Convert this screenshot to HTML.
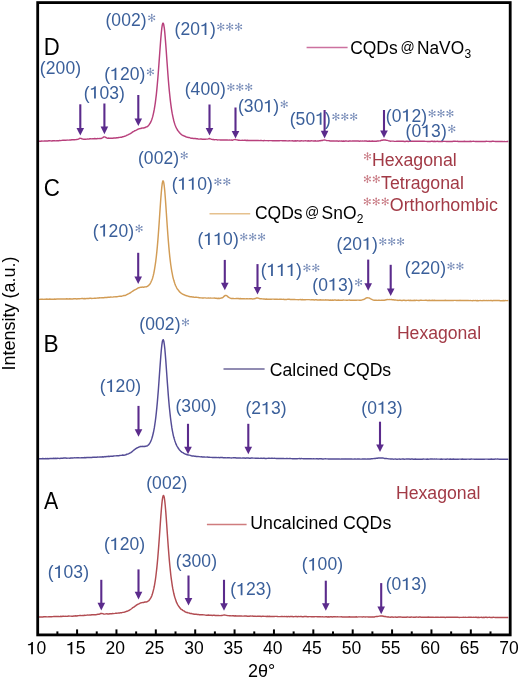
<!DOCTYPE html><html><head><meta charset="utf-8"><style>html,body{margin:0;padding:0;background:#fff;width:520px;height:682px;overflow:hidden}svg{display:block;will-change:transform;filter:blur(0.25px)}</style></head><body><svg width="520" height="682" viewBox="0 0 520 682">
<rect width="520" height="682" fill="#fff"/>
<path d="M38.8,141.19 L39.8,141.11 L40.8,141.23 L41.8,141.03 L42.8,141.14 L43.8,141.06 L44.8,140.94 L45.8,141.05 L46.8,140.88 L47.8,140.97 L48.8,140.83 L49.8,140.80 L50.8,140.87 L51.8,140.96 L52.8,140.72 L53.8,140.72 L54.8,140.81 L55.8,140.88 L56.8,140.73 L57.8,140.63 L58.8,140.75 L59.8,140.42 L60.8,140.61 L61.8,140.39 L62.8,140.29 L63.8,140.23 L64.8,140.23 L65.8,140.33 L66.8,140.08 L67.8,140.15 L68.8,140.11 L69.8,139.98 L70.8,139.97 L71.8,139.77 L72.8,139.71 L73.8,139.70 L74.8,139.79 L75.8,139.65 L76.8,139.53 L77.8,139.40 L78.8,138.88 L79.8,138.28 L80.8,138.38 L81.8,138.79 L82.8,139.03 L83.8,139.23 L84.8,139.18 L85.8,139.24 L86.8,139.14 L87.8,138.95 L88.8,139.10 L89.8,138.78 L90.8,138.82 L91.8,138.86 L92.8,138.64 L93.8,138.70 L94.8,138.52 L95.8,138.67 L96.8,138.66 L97.8,138.57 L98.8,138.62 L99.8,138.40 L100.8,138.45 L101.8,138.19 L102.8,137.62 L103.8,136.85 L104.8,136.86 L105.8,137.51 L106.8,137.96 L107.8,138.24 L108.8,138.09 L109.8,138.27 L110.8,138.23 L111.8,138.31 L112.8,138.22 L113.8,138.02 L114.8,138.00 L115.8,138.02 L116.8,137.75 L117.8,137.79 L118.8,137.58 L119.8,137.41 L120.8,137.21 L121.8,137.21 L122.8,136.76 L123.8,136.49 L124.8,136.18 L125.8,135.92 L126.8,135.23 L127.8,134.85 L128.8,134.34 L129.8,133.87 L130.8,133.26 L131.8,132.67 L132.8,131.88 L133.8,131.33 L134.8,130.74 L135.8,130.37 L136.8,129.91 L137.8,129.25 L138.8,128.89 L139.3,128.75 L139.8,128.61 L140.3,128.55 L140.8,128.46 L141.3,128.25 L141.8,128.07 L142.3,128.10 L142.8,127.98 L143.3,127.94 L143.8,127.95 L144.3,127.76 L144.8,127.57 L145.3,127.45 L145.8,127.28 L146.3,126.88 L146.8,126.87 L147.3,126.53 L147.8,126.19 L148.3,125.73 L148.8,125.09 L149.3,124.48 L149.8,123.67 L150.3,122.99 L150.8,121.84 L151.3,120.70 L151.8,119.42 L152.3,117.88 L152.8,116.18 L153.3,114.07 L153.8,111.74 L154.3,109.15 L154.8,106.13 L155.3,102.80 L155.8,98.86 L156.3,94.80 L156.8,89.91 L157.3,84.46 L157.8,78.69 L158.3,72.45 L158.8,65.81 L159.3,58.83 L159.8,52.06 L160.3,45.25 L160.8,38.67 L161.3,32.99 L161.8,28.23 L162.3,24.94 L162.8,23.29 L163.3,23.22 L163.8,25.05 L164.3,28.09 L164.8,32.66 L165.3,38.63 L165.8,44.96 L166.3,51.75 L166.8,58.96 L167.3,65.82 L167.8,72.76 L168.3,79.31 L168.8,85.25 L169.3,90.69 L169.8,95.55 L170.3,100.09 L170.8,104.07 L171.3,107.87 L171.8,111.02 L172.3,113.96 L172.8,116.37 L173.3,118.60 L173.8,120.78 L174.3,122.61 L174.8,124.15 L175.3,125.55 L175.8,126.81 L176.3,127.90 L176.8,128.75 L177.3,129.73 L177.8,130.48 L178.3,131.11 L178.8,131.76 L179.3,132.42 L179.8,132.94 L180.3,133.55 L180.8,134.07 L181.3,134.32 L181.8,134.83 L182.3,135.18 L182.8,135.47 L183.3,135.57 L183.8,135.79 L184.3,136.03 L184.8,136.23 L185.3,136.44 L185.8,136.75 L186.3,137.00 L186.8,137.14 L187.3,137.18 L187.8,137.37 L188.3,137.55 L189.3,137.56 L190.3,137.94 L191.3,138.19 L192.3,138.31 L193.3,138.44 L194.3,138.49 L195.3,138.51 L196.3,138.80 L197.3,138.76 L198.3,138.98 L199.3,139.11 L200.3,139.01 L201.3,139.08 L202.3,139.31 L203.3,139.30 L204.3,139.18 L205.3,139.17 L206.3,139.10 L207.3,139.13 L208.3,138.85 L209.3,138.52 L210.3,138.84 L211.3,139.19 L212.3,139.41 L213.3,139.52 L214.3,139.69 L215.3,139.62 L216.3,139.62 L217.3,139.93 L218.3,139.87 L219.3,139.86 L220.3,140.01 L221.3,139.89 L222.3,140.04 L223.3,140.06 L224.3,139.90 L225.3,139.93 L226.3,139.97 L227.3,139.98 L228.3,140.11 L229.3,140.03 L230.3,140.10 L231.3,140.02 L232.3,140.21 L233.3,139.88 L234.3,139.62 L235.3,139.47 L236.3,139.69 L237.3,139.87 L238.3,140.29 L239.3,140.29 L240.3,140.35 L241.3,140.36 L242.3,140.22 L243.3,140.36 L244.3,140.29 L245.3,140.25 L246.3,140.50 L247.3,140.32 L248.3,140.42 L249.3,140.50 L250.3,140.46 L251.3,140.40 L252.3,140.47 L253.3,140.49 L254.3,140.57 L255.3,140.38 L256.3,140.52 L257.3,140.44 L258.3,140.46 L259.3,140.61 L260.3,140.54 L261.3,140.57 L262.3,140.64 L263.3,140.69 L264.3,140.56 L265.3,140.62 L266.3,140.60 L267.3,140.61 L268.3,140.67 L269.3,140.61 L270.3,140.64 L271.3,140.63 L272.3,140.78 L273.3,140.72 L274.3,140.78 L275.3,140.81 L276.3,140.61 L277.3,140.71 L278.3,140.84 L279.3,140.81 L280.3,140.61 L281.3,140.62 L282.3,140.72 L283.3,140.62 L284.3,140.68 L285.3,140.64 L286.3,140.82 L287.3,140.87 L288.3,140.91 L289.3,140.70 L290.3,140.87 L291.3,140.86 L292.3,140.72 L293.3,140.95 L294.3,140.98 L295.3,140.77 L296.3,140.99 L297.3,140.84 L298.3,140.87 L299.3,141.03 L300.3,140.99 L301.3,140.79 L302.3,140.88 L303.3,140.91 L304.3,140.86 L305.3,140.82 L306.3,140.86 L307.3,140.99 L308.3,140.78 L309.3,140.95 L310.3,140.92 L311.3,140.79 L312.3,140.89 L313.3,140.98 L314.3,140.95 L315.3,140.82 L316.3,141.10 L317.3,141.04 L318.3,141.07 L319.3,140.75 L320.3,140.69 L321.3,140.44 L322.3,140.46 L323.3,140.12 L324.3,139.98 L325.3,140.12 L326.3,140.43 L327.3,140.62 L328.3,140.65 L329.3,140.76 L330.3,141.08 L331.3,141.02 L332.3,141.08 L333.3,140.90 L334.3,140.90 L335.3,141.09 L336.3,141.02 L337.3,140.92 L338.3,141.18 L339.3,141.09 L340.3,141.15 L341.3,140.94 L342.3,141.17 L343.3,140.94 L344.3,141.18 L345.3,141.06 L346.3,141.03 L347.3,141.10 L348.3,141.22 L349.3,141.02 L350.3,140.99 L351.3,141.11 L352.3,141.03 L353.3,140.99 L354.3,141.01 L355.3,140.98 L356.3,141.03 L357.3,141.07 L358.3,141.07 L359.3,141.21 L360.3,141.08 L361.3,141.14 L362.3,141.05 L363.3,141.10 L364.3,141.01 L365.3,141.08 L366.3,141.02 L367.3,141.24 L368.3,141.19 L369.3,141.08 L370.3,141.17 L371.3,141.31 L372.3,141.07 L373.3,141.28 L374.3,141.17 L375.3,141.18 L376.3,141.26 L377.3,141.07 L378.3,141.00 L379.3,140.89 L380.3,140.76 L381.3,140.31 L382.3,140.22 L383.3,140.03 L384.3,139.98 L385.3,140.03 L386.3,140.23 L387.3,140.40 L388.3,140.67 L389.3,140.85 L390.3,141.19 L391.3,141.12 L392.3,141.14 L393.3,141.14 L394.3,141.37 L395.3,141.39 L396.3,141.33 L397.3,141.22 L398.3,141.21 L399.3,141.23 L400.3,141.29 L401.3,141.20 L402.3,141.29 L403.3,141.23 L404.3,141.44 L405.3,141.45 L406.3,141.32 L407.3,141.24 L408.3,141.45 L409.3,141.26 L410.3,141.27 L411.3,141.17 L412.3,141.29 L413.3,141.32 L414.3,141.33 L415.3,141.24 L416.3,141.33 L417.3,141.18 L418.3,141.26 L419.3,141.21 L420.3,141.31 L421.3,141.20 L422.3,141.20 L423.3,141.28 L424.3,141.26 L425.3,141.37 L426.3,141.36 L427.3,141.42 L428.3,141.40 L429.3,141.42 L430.3,141.47 L431.3,141.32 L432.3,141.31 L433.3,141.50 L434.3,141.26 L435.3,141.43 L436.3,141.41 L437.3,141.23 L438.3,141.47 L439.3,141.49 L440.3,141.41 L441.3,141.44 L442.3,141.47 L443.3,141.27 L444.3,141.39 L445.3,141.38 L446.3,141.48 L447.3,141.48 L448.3,141.48 L449.3,141.41 L450.3,141.51 L451.3,141.45 L452.3,141.45 L453.3,141.32 L454.3,141.26 L455.3,141.29 L456.3,141.36 L457.3,141.28 L458.3,141.51 L459.3,141.42 L460.3,141.45 L461.3,141.45 L462.3,141.47 L463.3,141.41 L464.3,141.27 L465.3,141.51 L466.3,141.49 L467.3,141.42 L468.3,141.43 L469.3,141.47 L470.3,141.30 L471.3,141.50 L472.3,141.36 L473.3,141.30 L474.3,141.36 L475.3,141.51 L476.3,141.35 L477.3,141.51 L478.3,141.58 L479.3,141.44 L480.3,141.41 L481.3,141.44 L482.3,141.50 L483.3,141.53 L484.3,141.49 L485.3,141.50 L486.3,141.33 L487.3,141.35 L488.3,141.39 L489.3,141.53 L490.3,141.40 L491.3,141.49 L492.3,141.32 L493.3,141.34 L494.3,141.40 L495.3,141.52 L496.3,141.53 L497.3,141.53 L498.3,141.42 L499.3,141.48 L500.3,141.47 L501.3,141.47 L502.3,141.37 L503.3,141.61 L504.3,141.40 L505.3,141.63 L506.3,141.62 L507.3,141.35 L508.3,141.48" fill="none" stroke="#b8407c" stroke-width="1.45" stroke-linejoin="round"/>
<path d="M38.8,299.36 L39.8,299.40 L40.8,299.23 L41.8,299.16 L42.8,299.14 L43.8,299.34 L44.8,299.11 L45.8,299.21 L46.8,299.07 L47.8,299.17 L48.8,299.29 L49.8,299.03 L50.8,299.23 L51.8,299.12 L52.8,299.23 L53.8,299.16 L54.8,299.01 L55.8,299.19 L56.8,299.06 L57.8,298.91 L58.8,298.89 L59.8,299.03 L60.8,299.00 L61.8,298.94 L62.8,298.88 L63.8,298.93 L64.8,298.91 L65.8,299.06 L66.8,298.79 L67.8,299.01 L68.8,299.02 L69.8,298.79 L70.8,299.02 L71.8,298.94 L72.8,298.98 L73.8,298.79 L74.8,298.80 L75.8,298.79 L76.8,298.95 L77.8,298.80 L78.8,298.70 L79.8,298.70 L80.8,298.62 L81.8,298.52 L82.8,298.51 L83.8,298.70 L84.8,298.50 L85.8,298.66 L86.8,298.42 L87.8,298.38 L88.8,298.42 L89.8,298.28 L90.8,298.29 L91.8,298.42 L92.8,298.35 L93.8,298.27 L94.8,298.16 L95.8,298.19 L96.8,298.15 L97.8,297.99 L98.8,297.99 L99.8,297.74 L100.8,297.89 L101.8,297.75 L102.8,297.78 L103.8,297.68 L104.8,297.51 L105.8,297.37 L106.8,297.57 L107.8,297.26 L108.8,297.29 L109.8,297.17 L110.8,297.08 L111.8,297.14 L112.8,297.13 L113.8,296.84 L114.8,296.88 L115.8,296.69 L116.8,296.68 L117.8,296.54 L118.8,296.37 L119.8,296.25 L120.8,296.13 L121.8,296.18 L122.8,295.87 L123.8,295.56 L124.8,295.50 L125.8,295.20 L126.8,294.65 L127.8,294.11 L128.8,293.62 L129.8,293.03 L130.8,292.49 L131.8,291.76 L132.8,291.12 L133.8,290.45 L134.8,289.88 L135.8,289.35 L136.8,288.76 L137.8,288.18 L138.8,287.80 L139.3,287.68 L139.8,287.50 L140.3,287.38 L140.8,287.21 L141.3,287.21 L141.8,287.36 L142.3,287.07 L142.8,287.15 L143.3,287.16 L143.8,287.21 L144.3,286.98 L144.8,286.95 L145.3,286.87 L145.8,286.83 L146.3,286.71 L146.8,286.70 L147.3,286.44 L147.8,286.17 L148.3,285.56 L148.8,285.13 L149.3,284.81 L149.8,284.23 L150.3,283.35 L150.8,282.50 L151.3,281.28 L151.8,280.18 L152.3,278.92 L152.8,277.26 L153.3,275.38 L153.8,273.25 L154.3,270.55 L154.8,267.67 L155.3,264.44 L155.8,260.88 L156.3,256.77 L156.8,252.17 L157.3,246.88 L157.8,241.08 L158.3,234.78 L158.8,227.87 L159.3,220.69 L159.8,213.11 L160.3,205.91 L160.8,198.66 L161.3,192.47 L161.8,187.08 L162.3,183.13 L162.8,181.00 L163.3,180.90 L163.8,182.83 L164.3,186.46 L164.8,191.42 L165.3,197.69 L165.8,204.87 L166.3,212.32 L166.8,219.75 L167.3,227.01 L167.8,234.07 L168.3,240.36 L168.8,246.39 L169.3,251.83 L169.8,256.82 L170.3,261.07 L170.8,265.00 L171.3,268.30 L171.8,271.27 L172.3,273.96 L172.8,276.55 L173.3,278.59 L173.8,280.34 L174.3,281.91 L174.8,283.53 L175.3,284.89 L175.8,285.99 L176.3,286.99 L176.8,288.05 L177.3,288.97 L177.8,289.51 L178.3,290.14 L178.8,290.84 L179.3,291.43 L179.8,292.01 L180.3,292.32 L180.8,292.92 L181.3,293.29 L181.8,293.56 L182.3,293.79 L182.8,294.31 L183.3,294.39 L183.8,294.79 L184.3,294.84 L184.8,295.04 L185.3,295.40 L185.8,295.44 L186.3,295.80 L186.8,295.82 L187.3,295.87 L187.8,296.01 L188.3,296.20 L189.3,296.50 L190.3,296.78 L191.3,296.71 L192.3,296.93 L193.3,297.01 L194.3,297.36 L195.3,297.22 L196.3,297.29 L197.3,297.38 L198.3,297.56 L199.3,297.78 L200.3,297.84 L201.3,297.85 L202.3,297.98 L203.3,298.01 L204.3,297.87 L205.3,297.87 L206.3,298.14 L207.3,298.11 L208.3,297.93 L209.3,298.15 L210.3,298.09 L211.3,298.12 L212.3,298.13 L213.3,298.11 L214.3,298.08 L215.3,298.18 L216.3,298.22 L217.3,298.42 L218.3,298.19 L219.3,298.44 L220.3,298.18 L221.3,298.07 L222.3,297.81 L223.3,297.10 L224.3,296.11 L225.3,295.36 L226.3,295.50 L227.3,296.12 L228.3,297.19 L229.3,297.71 L230.3,298.18 L231.3,298.53 L232.3,298.35 L233.3,298.49 L234.3,298.63 L235.3,298.64 L236.3,298.44 L237.3,298.46 L238.3,298.49 L239.3,298.76 L240.3,298.58 L241.3,298.75 L242.3,298.81 L243.3,298.66 L244.3,298.66 L245.3,298.88 L246.3,298.79 L247.3,298.70 L248.3,298.86 L249.3,298.75 L250.3,298.76 L251.3,298.69 L252.3,298.91 L253.3,298.91 L254.3,298.70 L255.3,298.58 L256.3,298.05 L257.3,297.97 L258.3,298.10 L259.3,298.48 L260.3,298.76 L261.3,298.81 L262.3,298.89 L263.3,299.00 L264.3,299.05 L265.3,299.20 L266.3,298.99 L267.3,299.19 L268.3,299.19 L269.3,299.23 L270.3,299.23 L271.3,299.20 L272.3,299.13 L273.3,299.14 L274.3,299.17 L275.3,299.31 L276.3,299.11 L277.3,299.17 L278.3,299.35 L279.3,299.21 L280.3,299.17 L281.3,299.18 L282.3,299.35 L283.3,299.30 L284.3,299.51 L285.3,299.49 L286.3,299.54 L287.3,299.34 L288.3,299.30 L289.3,299.32 L290.3,299.45 L291.3,299.53 L292.3,299.47 L293.3,299.42 L294.3,299.49 L295.3,299.57 L296.3,299.60 L297.3,299.63 L298.3,299.68 L299.3,299.64 L300.3,299.49 L301.3,299.72 L302.3,299.57 L303.3,299.67 L304.3,299.63 L305.3,299.75 L306.3,299.60 L307.3,299.63 L308.3,299.65 L309.3,299.63 L310.3,299.87 L311.3,299.79 L312.3,299.73 L313.3,299.77 L314.3,299.96 L315.3,299.83 L316.3,299.76 L317.3,299.95 L318.3,299.92 L319.3,300.03 L320.3,299.78 L321.3,299.91 L322.3,300.03 L323.3,300.05 L324.3,300.08 L325.3,299.84 L326.3,299.93 L327.3,299.89 L328.3,299.93 L329.3,300.18 L330.3,300.07 L331.3,300.19 L332.3,300.04 L333.3,300.20 L334.3,300.09 L335.3,300.05 L336.3,300.22 L337.3,300.29 L338.3,300.05 L339.3,300.21 L340.3,300.23 L341.3,300.11 L342.3,300.16 L343.3,300.09 L344.3,300.11 L345.3,300.13 L346.3,300.24 L347.3,300.25 L348.3,300.12 L349.3,300.07 L350.3,300.16 L351.3,300.27 L352.3,300.13 L353.3,300.17 L354.3,300.14 L355.3,300.32 L356.3,300.25 L357.3,300.10 L358.3,300.11 L359.3,300.19 L360.3,300.22 L361.3,300.17 L362.3,299.85 L363.3,299.57 L364.3,299.26 L365.3,298.59 L366.3,297.99 L367.3,297.65 L368.3,297.84 L369.3,298.01 L370.3,298.65 L371.3,299.17 L372.3,299.66 L373.3,300.10 L374.3,300.31 L375.3,300.20 L376.3,300.18 L377.3,300.35 L378.3,300.19 L379.3,300.13 L380.3,300.39 L381.3,300.23 L382.3,300.32 L383.3,300.14 L384.3,300.20 L385.3,299.97 L386.3,299.75 L387.3,299.57 L388.3,299.61 L389.3,299.57 L390.3,299.64 L391.3,299.45 L392.3,299.71 L393.3,299.77 L394.3,299.95 L395.3,299.97 L396.3,300.11 L397.3,300.25 L398.3,300.41 L399.3,300.19 L400.3,300.32 L401.3,300.43 L402.3,300.48 L403.3,300.25 L404.3,300.24 L405.3,300.48 L406.3,300.50 L407.3,300.35 L408.3,300.22 L409.3,300.49 L410.3,300.33 L411.3,300.49 L412.3,300.40 L413.3,300.47 L414.3,300.27 L415.3,300.46 L416.3,300.29 L417.3,300.35 L418.3,300.48 L419.3,300.48 L420.3,300.29 L421.3,300.30 L422.3,300.36 L423.3,300.40 L424.3,300.36 L425.3,300.28 L426.3,300.32 L427.3,300.47 L428.3,300.52 L429.3,300.27 L430.3,300.43 L431.3,300.49 L432.3,300.28 L433.3,300.52 L434.3,300.30 L435.3,300.45 L436.3,300.44 L437.3,300.46 L438.3,300.37 L439.3,300.41 L440.3,300.46 L441.3,300.41 L442.3,300.49 L443.3,300.42 L444.3,300.42 L445.3,300.30 L446.3,300.48 L447.3,300.45 L448.3,300.37 L449.3,300.53 L450.3,300.54 L451.3,300.45 L452.3,300.37 L453.3,300.46 L454.3,300.35 L455.3,300.36 L456.3,300.45 L457.3,300.35 L458.3,300.46 L459.3,300.48 L460.3,300.34 L461.3,300.52 L462.3,300.36 L463.3,300.56 L464.3,300.57 L465.3,300.50 L466.3,300.36 L467.3,300.50 L468.3,300.46 L469.3,300.64 L470.3,300.40 L471.3,300.61 L472.3,300.66 L473.3,300.58 L474.3,300.61 L475.3,300.42 L476.3,300.66 L477.3,300.52 L478.3,300.66 L479.3,300.65 L480.3,300.43 L481.3,300.62 L482.3,300.66 L483.3,300.41 L484.3,300.49 L485.3,300.62 L486.3,300.44 L487.3,300.66 L488.3,300.48 L489.3,300.64 L490.3,300.45 L491.3,300.56 L492.3,300.68 L493.3,300.47 L494.3,300.49 L495.3,300.57 L496.3,300.51 L497.3,300.43 L498.3,300.48 L499.3,300.47 L500.3,300.71 L501.3,300.63 L502.3,300.70 L503.3,300.48 L504.3,300.67 L505.3,300.47 L506.3,300.60 L507.3,300.63 L508.3,300.55" fill="none" stroke="#d29c55" stroke-width="1.45" stroke-linejoin="round"/>
<path d="M38.8,458.87 L39.8,458.76 L40.8,458.74 L41.8,458.81 L42.8,458.56 L43.8,458.80 L44.8,458.67 L45.8,458.58 L46.8,458.68 L47.8,458.50 L48.8,458.69 L49.8,458.55 L50.8,458.46 L51.8,458.56 L52.8,458.44 L53.8,458.34 L54.8,458.49 L55.8,458.26 L56.8,458.47 L57.8,458.28 L58.8,458.37 L59.8,458.45 L60.8,458.31 L61.8,458.31 L62.8,458.18 L63.8,458.07 L64.8,458.05 L65.8,458.07 L66.8,458.18 L67.8,458.11 L68.8,458.11 L69.8,458.20 L70.8,457.95 L71.8,457.95 L72.8,458.06 L73.8,457.85 L74.8,457.82 L75.8,457.90 L76.8,457.80 L77.8,457.84 L78.8,457.77 L79.8,457.85 L80.8,457.82 L81.8,457.68 L82.8,457.77 L83.8,457.69 L84.8,457.56 L85.8,457.77 L86.8,457.52 L87.8,457.46 L88.8,457.40 L89.8,457.52 L90.8,457.55 L91.8,457.48 L92.8,457.32 L93.8,457.23 L94.8,457.10 L95.8,457.23 L96.8,457.16 L97.8,457.06 L98.8,457.10 L99.8,457.00 L100.8,457.09 L101.8,456.98 L102.8,456.77 L103.8,456.91 L104.8,456.58 L105.8,456.66 L106.8,456.55 L107.8,456.42 L108.8,456.29 L109.8,456.43 L110.8,456.12 L111.8,456.20 L112.8,456.23 L113.8,455.91 L114.8,455.85 L115.8,455.89 L116.8,455.77 L117.8,455.73 L118.8,455.70 L119.8,455.42 L120.8,455.37 L121.8,455.27 L122.8,455.07 L123.8,455.18 L124.8,454.98 L125.8,454.74 L126.8,454.25 L127.8,454.15 L128.8,453.69 L129.8,453.10 L130.8,452.58 L131.8,451.82 L132.8,451.01 L133.8,450.19 L134.8,449.44 L135.8,448.62 L136.8,448.02 L137.8,447.55 L138.8,447.07 L139.3,446.93 L139.8,446.74 L140.3,446.50 L140.8,446.50 L141.3,446.42 L141.8,446.50 L142.3,446.41 L142.8,446.34 L143.3,446.46 L143.8,446.57 L144.3,446.35 L144.8,446.53 L145.3,446.22 L145.8,446.22 L146.3,446.08 L146.8,446.05 L147.3,445.86 L147.8,445.48 L148.3,444.94 L148.8,444.59 L149.3,443.80 L149.8,443.02 L150.3,442.33 L150.8,441.20 L151.3,440.00 L151.8,438.59 L152.3,437.06 L152.8,435.05 L153.3,433.04 L153.8,430.58 L154.3,427.89 L154.8,424.67 L155.3,421.26 L155.8,417.29 L156.3,412.83 L156.8,407.93 L157.3,402.69 L157.8,396.67 L158.3,390.61 L158.8,383.68 L159.3,376.67 L159.8,369.61 L160.3,362.89 L160.8,356.14 L161.3,350.20 L161.8,345.31 L162.3,341.79 L162.8,340.02 L163.3,339.73 L163.8,341.21 L164.3,344.29 L164.8,348.56 L165.3,354.32 L165.8,360.66 L166.3,367.68 L166.8,374.77 L167.3,381.84 L167.8,388.41 L168.3,395.11 L168.8,401.16 L169.3,406.72 L169.8,411.53 L170.3,416.14 L170.8,420.23 L171.3,423.89 L171.8,427.43 L172.3,430.36 L172.8,432.92 L173.3,435.31 L173.8,437.32 L174.3,439.06 L174.8,440.65 L175.3,442.12 L175.8,443.63 L176.3,444.64 L176.8,445.72 L177.3,446.70 L177.8,447.42 L178.3,448.26 L178.8,448.95 L179.3,449.71 L179.8,450.17 L180.3,450.67 L180.8,451.33 L181.3,451.63 L181.8,452.13 L182.3,452.42 L182.8,452.57 L183.3,452.99 L183.8,453.27 L184.3,453.63 L184.8,453.74 L185.3,454.07 L185.8,454.22 L186.3,454.31 L186.8,454.68 L187.3,454.61 L187.8,454.98 L188.3,454.92 L189.3,455.13 L190.3,455.41 L191.3,455.77 L192.3,456.01 L193.3,455.87 L194.3,456.16 L195.3,456.28 L196.3,456.48 L197.3,456.40 L198.3,456.59 L199.3,456.63 L200.3,456.85 L201.3,456.75 L202.3,457.02 L203.3,456.88 L204.3,456.92 L205.3,457.12 L206.3,457.10 L207.3,457.03 L208.3,457.24 L209.3,457.11 L210.3,457.36 L211.3,457.37 L212.3,457.43 L213.3,457.42 L214.3,457.37 L215.3,457.41 L216.3,457.44 L217.3,457.62 L218.3,457.41 L219.3,457.67 L220.3,457.44 L221.3,457.52 L222.3,457.56 L223.3,457.78 L224.3,457.68 L225.3,457.67 L226.3,457.84 L227.3,457.67 L228.3,457.76 L229.3,457.80 L230.3,457.89 L231.3,457.91 L232.3,457.89 L233.3,457.83 L234.3,457.84 L235.3,457.81 L236.3,458.03 L237.3,458.00 L238.3,458.04 L239.3,457.88 L240.3,457.98 L241.3,458.10 L242.3,458.06 L243.3,457.94 L244.3,458.06 L245.3,458.21 L246.3,458.03 L247.3,458.03 L248.3,458.08 L249.3,458.21 L250.3,458.26 L251.3,458.07 L252.3,458.08 L253.3,458.12 L254.3,458.15 L255.3,458.22 L256.3,458.12 L257.3,458.18 L258.3,458.15 L259.3,458.40 L260.3,458.33 L261.3,458.16 L262.3,458.42 L263.3,458.17 L264.3,458.27 L265.3,458.46 L266.3,458.41 L267.3,458.40 L268.3,458.32 L269.3,458.26 L270.3,458.40 L271.3,458.25 L272.3,458.29 L273.3,458.36 L274.3,458.26 L275.3,458.38 L276.3,458.51 L277.3,458.49 L278.3,458.44 L279.3,458.49 L280.3,458.45 L281.3,458.36 L282.3,458.51 L283.3,458.46 L284.3,458.57 L285.3,458.63 L286.3,458.49 L287.3,458.54 L288.3,458.61 L289.3,458.52 L290.3,458.47 L291.3,458.62 L292.3,458.68 L293.3,458.66 L294.3,458.65 L295.3,458.70 L296.3,458.66 L297.3,458.66 L298.3,458.61 L299.3,458.57 L300.3,458.68 L301.3,458.53 L302.3,458.63 L303.3,458.75 L304.3,458.74 L305.3,458.72 L306.3,458.62 L307.3,458.68 L308.3,458.70 L309.3,458.76 L310.3,458.70 L311.3,458.79 L312.3,458.88 L313.3,458.66 L314.3,458.81 L315.3,458.86 L316.3,458.75 L317.3,458.79 L318.3,458.94 L319.3,458.67 L320.3,458.83 L321.3,458.73 L322.3,458.92 L323.3,458.98 L324.3,458.86 L325.3,458.74 L326.3,458.89 L327.3,458.89 L328.3,458.95 L329.3,458.90 L330.3,458.95 L331.3,459.01 L332.3,458.93 L333.3,458.91 L334.3,459.08 L335.3,458.86 L336.3,459.02 L337.3,458.94 L338.3,459.06 L339.3,458.87 L340.3,459.14 L341.3,458.95 L342.3,458.86 L343.3,458.93 L344.3,458.97 L345.3,458.85 L346.3,458.98 L347.3,458.98 L348.3,459.06 L349.3,458.96 L350.3,458.94 L351.3,458.92 L352.3,459.08 L353.3,459.14 L354.3,459.02 L355.3,458.93 L356.3,459.10 L357.3,458.98 L358.3,458.93 L359.3,458.91 L360.3,459.10 L361.3,459.11 L362.3,459.06 L363.3,459.01 L364.3,459.04 L365.3,458.93 L366.3,459.14 L367.3,458.94 L368.3,459.01 L369.3,459.02 L370.3,458.97 L371.3,458.80 L372.3,458.67 L373.3,458.64 L374.3,458.40 L375.3,458.49 L376.3,458.23 L377.3,458.28 L378.3,458.03 L379.3,458.02 L380.3,457.97 L381.3,458.06 L382.3,458.05 L383.3,458.09 L384.3,458.42 L385.3,458.41 L386.3,458.52 L387.3,458.65 L388.3,458.80 L389.3,458.86 L390.3,458.98 L391.3,459.03 L392.3,458.97 L393.3,459.16 L394.3,459.15 L395.3,458.92 L396.3,459.16 L397.3,459.18 L398.3,459.15 L399.3,458.96 L400.3,459.17 L401.3,459.11 L402.3,458.92 L403.3,458.93 L404.3,459.21 L405.3,459.12 L406.3,459.00 L407.3,458.96 L408.3,458.97 L409.3,459.00 L410.3,459.16 L411.3,459.04 L412.3,458.98 L413.3,459.21 L414.3,459.17 L415.3,458.99 L416.3,459.20 L417.3,459.12 L418.3,459.17 L419.3,459.14 L420.3,459.21 L421.3,459.18 L422.3,459.20 L423.3,459.01 L424.3,459.15 L425.3,459.11 L426.3,459.17 L427.3,459.08 L428.3,459.22 L429.3,459.12 L430.3,459.03 L431.3,459.03 L432.3,459.00 L433.3,459.11 L434.3,458.98 L435.3,459.10 L436.3,459.00 L437.3,459.11 L438.3,459.11 L439.3,459.13 L440.3,459.23 L441.3,458.97 L442.3,459.22 L443.3,459.11 L444.3,459.14 L445.3,459.17 L446.3,459.23 L447.3,459.09 L448.3,459.10 L449.3,459.27 L450.3,459.00 L451.3,459.17 L452.3,459.17 L453.3,458.99 L454.3,459.17 L455.3,459.19 L456.3,459.26 L457.3,459.09 L458.3,459.28 L459.3,459.14 L460.3,459.14 L461.3,459.26 L462.3,459.00 L463.3,459.21 L464.3,459.18 L465.3,459.10 L466.3,459.26 L467.3,459.11 L468.3,459.14 L469.3,459.16 L470.3,459.23 L471.3,459.07 L472.3,459.13 L473.3,459.13 L474.3,459.17 L475.3,459.26 L476.3,459.10 L477.3,459.26 L478.3,459.13 L479.3,459.16 L480.3,459.10 L481.3,459.17 L482.3,459.31 L483.3,459.21 L484.3,459.26 L485.3,459.12 L486.3,459.12 L487.3,459.11 L488.3,459.20 L489.3,459.22 L490.3,459.26 L491.3,459.04 L492.3,459.24 L493.3,459.29 L494.3,459.19 L495.3,459.05 L496.3,459.12 L497.3,459.04 L498.3,459.09 L499.3,459.31 L500.3,459.22 L501.3,459.24 L502.3,459.28 L503.3,459.31 L504.3,459.23 L505.3,459.23 L506.3,459.23 L507.3,459.25 L508.3,459.23" fill="none" stroke="#544c96" stroke-width="1.45" stroke-linejoin="round"/>
<path d="M38.8,617.02 L39.8,616.85 L40.8,616.97 L41.8,616.88 L42.8,616.95 L43.8,616.73 L44.8,616.73 L45.8,616.66 L46.8,616.86 L47.8,616.88 L48.8,616.78 L49.8,616.67 L50.8,616.78 L51.8,616.74 L52.8,616.65 L53.8,616.54 L54.8,616.53 L55.8,616.54 L56.8,616.49 L57.8,616.50 L58.8,616.54 L59.8,616.60 L60.8,616.30 L61.8,616.43 L62.8,616.24 L63.8,616.23 L64.8,616.40 L65.8,616.30 L66.8,616.37 L67.8,616.20 L68.8,616.03 L69.8,616.11 L70.8,616.14 L71.8,616.21 L72.8,616.19 L73.8,616.01 L74.8,615.95 L75.8,615.83 L76.8,615.93 L77.8,615.74 L78.8,615.65 L79.8,615.54 L80.8,615.47 L81.8,615.61 L82.8,615.38 L83.8,615.56 L84.8,615.23 L85.8,615.40 L86.8,615.11 L87.8,615.01 L88.8,615.15 L89.8,614.94 L90.8,615.02 L91.8,614.78 L92.8,614.67 L93.8,614.81 L94.8,614.72 L95.8,614.69 L96.8,614.58 L97.8,614.30 L98.8,614.31 L99.8,614.00 L100.8,613.46 L101.8,613.52 L102.8,613.65 L103.8,614.13 L104.8,614.12 L105.8,613.88 L106.8,613.84 L107.8,613.98 L108.8,613.97 L109.8,613.69 L110.8,613.69 L111.8,613.74 L112.8,613.49 L113.8,613.61 L114.8,613.41 L115.8,613.18 L116.8,613.17 L117.8,613.13 L118.8,612.97 L119.8,612.92 L120.8,612.62 L121.8,612.66 L122.8,612.35 L123.8,612.22 L124.8,611.97 L125.8,611.61 L126.8,611.24 L127.8,610.95 L128.8,610.51 L129.8,609.91 L130.8,609.23 L131.8,608.48 L132.8,607.69 L133.8,607.21 L134.8,606.38 L135.8,605.68 L136.8,604.84 L137.8,604.29 L138.8,603.86 L139.3,603.58 L139.8,603.30 L140.3,603.02 L140.8,602.90 L141.3,602.89 L141.8,602.62 L142.3,602.62 L142.8,602.51 L143.3,602.53 L143.8,602.44 L144.3,602.22 L144.8,602.06 L145.3,602.06 L145.8,602.01 L146.3,601.93 L146.8,601.83 L147.3,601.65 L147.8,601.13 L148.3,601.03 L148.8,600.61 L149.3,600.13 L149.8,599.43 L150.3,598.62 L150.8,597.93 L151.3,596.90 L151.8,595.67 L152.3,594.35 L152.8,592.57 L153.3,590.63 L153.8,588.64 L154.3,586.26 L154.8,583.29 L155.3,580.29 L155.8,576.76 L156.3,572.51 L156.8,568.10 L157.3,563.09 L157.8,557.48 L158.3,551.36 L158.8,544.87 L159.3,538.14 L159.8,531.03 L160.3,523.75 L160.8,516.65 L161.3,510.36 L161.8,504.65 L162.3,499.93 L162.8,496.90 L163.3,495.51 L163.8,495.78 L164.3,497.69 L164.8,501.28 L165.3,506.28 L165.8,512.17 L166.3,518.90 L166.8,526.02 L167.3,533.42 L167.8,540.46 L168.3,547.38 L168.8,553.79 L169.3,559.83 L169.8,565.22 L170.3,570.19 L170.8,574.99 L171.3,578.86 L171.8,582.41 L172.3,585.80 L172.8,588.73 L173.3,591.11 L173.8,593.53 L174.3,595.49 L174.8,597.36 L175.3,598.82 L175.8,600.27 L176.3,601.85 L176.8,602.97 L177.3,603.89 L177.8,604.85 L178.3,605.60 L178.8,606.51 L179.3,607.08 L179.8,607.86 L180.3,608.37 L180.8,608.89 L181.3,609.40 L181.8,609.61 L182.3,609.93 L182.8,610.34 L183.3,610.66 L183.8,610.93 L184.3,611.19 L184.8,611.59 L185.3,611.92 L185.8,612.01 L186.3,612.36 L186.8,612.53 L187.3,612.45 L187.8,612.77 L188.3,612.86 L189.3,613.04 L190.3,613.53 L191.3,613.52 L192.3,613.80 L193.3,613.98 L194.3,614.22 L195.3,614.26 L196.3,614.30 L197.3,614.42 L198.3,614.42 L199.3,614.75 L200.3,614.84 L201.3,614.68 L202.3,614.69 L203.3,614.82 L204.3,614.90 L205.3,615.12 L206.3,615.17 L207.3,615.20 L208.3,615.00 L209.3,615.27 L210.3,615.28 L211.3,615.30 L212.3,615.44 L213.3,615.19 L214.3,615.25 L215.3,615.46 L216.3,615.55 L217.3,615.50 L218.3,615.41 L219.3,615.52 L220.3,615.60 L221.3,615.41 L222.3,615.40 L223.3,615.16 L224.3,614.91 L225.3,615.15 L226.3,615.37 L227.3,615.57 L228.3,615.60 L229.3,615.79 L230.3,615.61 L231.3,615.85 L232.3,615.71 L233.3,615.69 L234.3,615.98 L235.3,615.79 L236.3,616.02 L237.3,616.02 L238.3,616.05 L239.3,615.85 L240.3,615.96 L241.3,615.87 L242.3,616.14 L243.3,616.14 L244.3,616.09 L245.3,616.06 L246.3,616.05 L247.3,616.21 L248.3,616.13 L249.3,616.19 L250.3,616.07 L251.3,616.11 L252.3,616.08 L253.3,616.29 L254.3,616.27 L255.3,616.16 L256.3,616.40 L257.3,616.24 L258.3,616.30 L259.3,616.24 L260.3,616.29 L261.3,616.47 L262.3,616.32 L263.3,616.28 L264.3,616.39 L265.3,616.34 L266.3,616.52 L267.3,616.29 L268.3,616.56 L269.3,616.29 L270.3,616.55 L271.3,616.49 L272.3,616.36 L273.3,616.45 L274.3,616.40 L275.3,616.39 L276.3,616.38 L277.3,616.44 L278.3,616.64 L279.3,616.64 L280.3,616.63 L281.3,616.39 L282.3,616.45 L283.3,616.64 L284.3,616.40 L285.3,616.60 L286.3,616.48 L287.3,616.69 L288.3,616.41 L289.3,616.66 L290.3,616.52 L291.3,616.47 L292.3,616.43 L293.3,616.69 L294.3,616.60 L295.3,616.51 L296.3,616.59 L297.3,616.74 L298.3,616.54 L299.3,616.65 L300.3,616.53 L301.3,616.55 L302.3,616.73 L303.3,616.72 L304.3,616.57 L305.3,616.54 L306.3,616.55 L307.3,616.72 L308.3,616.69 L309.3,616.63 L310.3,616.61 L311.3,616.74 L312.3,616.78 L313.3,616.81 L314.3,616.75 L315.3,616.65 L316.3,616.61 L317.3,616.82 L318.3,616.73 L319.3,616.83 L320.3,616.63 L321.3,616.87 L322.3,616.73 L323.3,616.89 L324.3,616.90 L325.3,616.80 L326.3,616.66 L327.3,616.93 L328.3,616.81 L329.3,616.94 L330.3,616.76 L331.3,616.74 L332.3,616.94 L333.3,616.81 L334.3,616.76 L335.3,616.82 L336.3,616.90 L337.3,616.73 L338.3,616.89 L339.3,616.87 L340.3,616.90 L341.3,616.78 L342.3,616.97 L343.3,617.00 L344.3,617.02 L345.3,616.86 L346.3,616.98 L347.3,616.88 L348.3,617.00 L349.3,616.80 L350.3,617.04 L351.3,617.07 L352.3,616.94 L353.3,616.95 L354.3,616.95 L355.3,616.96 L356.3,616.81 L357.3,617.10 L358.3,616.88 L359.3,616.87 L360.3,616.85 L361.3,616.90 L362.3,617.07 L363.3,616.84 L364.3,616.86 L365.3,617.04 L366.3,616.90 L367.3,616.85 L368.3,617.02 L369.3,617.02 L370.3,617.00 L371.3,617.05 L372.3,616.85 L373.3,617.05 L374.3,616.95 L375.3,616.65 L376.3,616.55 L377.3,616.51 L378.3,616.34 L379.3,616.12 L380.3,615.97 L381.3,616.01 L382.3,615.98 L383.3,616.23 L384.3,616.47 L385.3,616.43 L386.3,616.72 L387.3,616.91 L388.3,616.83 L389.3,617.10 L390.3,617.17 L391.3,617.03 L392.3,617.05 L393.3,617.18 L394.3,617.10 L395.3,617.06 L396.3,617.23 L397.3,617.18 L398.3,617.05 L399.3,617.03 L400.3,617.06 L401.3,617.09 L402.3,617.26 L403.3,617.21 L404.3,617.25 L405.3,617.22 L406.3,617.24 L407.3,617.00 L408.3,617.14 L409.3,617.28 L410.3,617.28 L411.3,617.07 L412.3,617.13 L413.3,617.20 L414.3,617.12 L415.3,617.17 L416.3,617.04 L417.3,617.15 L418.3,617.18 L419.3,617.03 L420.3,617.07 L421.3,617.33 L422.3,617.27 L423.3,617.32 L424.3,617.24 L425.3,617.29 L426.3,617.32 L427.3,617.32 L428.3,617.07 L429.3,617.26 L430.3,617.15 L431.3,617.27 L432.3,617.16 L433.3,617.24 L434.3,617.36 L435.3,617.27 L436.3,617.16 L437.3,617.25 L438.3,617.23 L439.3,617.38 L440.3,617.19 L441.3,617.20 L442.3,617.30 L443.3,617.15 L444.3,617.29 L445.3,617.41 L446.3,617.28 L447.3,617.21 L448.3,617.27 L449.3,617.29 L450.3,617.18 L451.3,617.18 L452.3,617.18 L453.3,617.24 L454.3,617.27 L455.3,617.24 L456.3,617.23 L457.3,617.19 L458.3,617.33 L459.3,617.42 L460.3,617.36 L461.3,617.35 L462.3,617.38 L463.3,617.24 L464.3,617.40 L465.3,617.33 L466.3,617.36 L467.3,617.38 L468.3,617.34 L469.3,617.30 L470.3,617.28 L471.3,617.28 L472.3,617.37 L473.3,617.33 L474.3,617.40 L475.3,617.23 L476.3,617.34 L477.3,617.49 L478.3,617.31 L479.3,617.41 L480.3,617.39 L481.3,617.33 L482.3,617.55 L483.3,617.34 L484.3,617.49 L485.3,617.31 L486.3,617.29 L487.3,617.53 L488.3,617.40 L489.3,617.29 L490.3,617.40 L491.3,617.41 L492.3,617.51 L493.3,617.32 L494.3,617.36 L495.3,617.58 L496.3,617.52 L497.3,617.35 L498.3,617.41 L499.3,617.42 L500.3,617.52 L501.3,617.50 L502.3,617.58 L503.3,617.57 L504.3,617.48 L505.3,617.55 L506.3,617.56 L507.3,617.57 L508.3,617.49" fill="none" stroke="#b24c52" stroke-width="1.45" stroke-linejoin="round"/>
<line x1="80.3" y1="104.3" x2="80.3" y2="128.9" stroke="#5b2b8c" stroke-width="2.1"/><path d="M76.5,127.9 L84.1,127.9 L80.3,135.5 Z" fill="#5b2b8c"/>
<line x1="104.4" y1="103.5" x2="104.4" y2="127.6" stroke="#5b2b8c" stroke-width="2.1"/><path d="M100.6,126.6 L108.2,126.6 L104.4,134.2 Z" fill="#5b2b8c"/>
<line x1="138.3" y1="95" x2="138.3" y2="119.4" stroke="#5b2b8c" stroke-width="2.1"/><path d="M134.5,118.4 L142.1,118.4 L138.3,126 Z" fill="#5b2b8c"/>
<line x1="209.5" y1="104.5" x2="209.5" y2="128.9" stroke="#5b2b8c" stroke-width="2.1"/><path d="M205.7,127.9 L213.3,127.9 L209.5,135.5 Z" fill="#5b2b8c"/>
<line x1="235.5" y1="107.5" x2="235.5" y2="132.0" stroke="#5b2b8c" stroke-width="2.1"/><path d="M231.7,131.0 L239.3,131.0 L235.5,138.6 Z" fill="#5b2b8c"/>
<line x1="324.6" y1="110" x2="324.6" y2="131.8" stroke="#5b2b8c" stroke-width="2.1"/><path d="M320.8,130.8 L328.4,130.8 L324.6,138.4 Z" fill="#5b2b8c"/>
<line x1="384" y1="110" x2="384" y2="131.5" stroke="#5b2b8c" stroke-width="2.1"/><path d="M380.2,130.5 L387.8,130.5 L384,138.1 Z" fill="#5b2b8c"/>
<line x1="138.2" y1="252.8" x2="138.2" y2="277.4" stroke="#5b2b8c" stroke-width="2.1"/><path d="M134.4,276.4 L142.0,276.4 L138.2,284 Z" fill="#5b2b8c"/>
<line x1="224.8" y1="259.9" x2="224.8" y2="283.7" stroke="#5b2b8c" stroke-width="2.1"/><path d="M221.0,282.7 L228.6,282.7 L224.8,290.3 Z" fill="#5b2b8c"/>
<line x1="257.5" y1="264.1" x2="257.5" y2="287.9" stroke="#5b2b8c" stroke-width="2.1"/><path d="M253.7,286.9 L261.3,286.9 L257.5,294.5 Z" fill="#5b2b8c"/>
<line x1="368.2" y1="259.6" x2="368.2" y2="284.2" stroke="#5b2b8c" stroke-width="2.1"/><path d="M364.4,283.2 L372.0,283.2 L368.2,290.8 Z" fill="#5b2b8c"/>
<line x1="390.7" y1="264.8" x2="390.7" y2="289.4" stroke="#5b2b8c" stroke-width="2.1"/><path d="M386.9,288.4 L394.5,288.4 L390.7,296 Z" fill="#5b2b8c"/>
<line x1="138.5" y1="405.9" x2="138.5" y2="430.2" stroke="#5b2b8c" stroke-width="2.1"/><path d="M134.7,429.2 L142.3,429.2 L138.5,436.8 Z" fill="#5b2b8c"/>
<line x1="188" y1="423.8" x2="188" y2="447.7" stroke="#5b2b8c" stroke-width="2.1"/><path d="M184.2,446.7 L191.8,446.7 L188,454.3 Z" fill="#5b2b8c"/>
<line x1="248.3" y1="423.8" x2="248.3" y2="447.7" stroke="#5b2b8c" stroke-width="2.1"/><path d="M244.5,446.7 L252.1,446.7 L248.3,454.3 Z" fill="#5b2b8c"/>
<line x1="380" y1="421.7" x2="380" y2="445.5" stroke="#5b2b8c" stroke-width="2.1"/><path d="M376.2,444.5 L383.8,444.5 L380,452.1 Z" fill="#5b2b8c"/>
<line x1="101.3" y1="579.8" x2="101.3" y2="603.8" stroke="#5b2b8c" stroke-width="2.1"/><path d="M97.5,602.8 L105.1,602.8 L101.3,610.4 Z" fill="#5b2b8c"/>
<line x1="138.5" y1="569.4" x2="138.5" y2="592.8" stroke="#5b2b8c" stroke-width="2.1"/><path d="M134.7,591.8 L142.3,591.8 L138.5,599.4 Z" fill="#5b2b8c"/>
<line x1="188.5" y1="575.5" x2="188.5" y2="599.0" stroke="#5b2b8c" stroke-width="2.1"/><path d="M184.7,598.0 L192.3,598.0 L188.5,605.6 Z" fill="#5b2b8c"/>
<line x1="224" y1="579.8" x2="224" y2="604.1999999999999" stroke="#5b2b8c" stroke-width="2.1"/><path d="M220.2,603.2 L227.8,603.2 L224,610.8 Z" fill="#5b2b8c"/>
<line x1="325.8" y1="580.7" x2="325.8" y2="604.1999999999999" stroke="#5b2b8c" stroke-width="2.1"/><path d="M322.0,603.2 L329.6,603.2 L325.8,610.8 Z" fill="#5b2b8c"/>
<line x1="381.2" y1="583.1" x2="381.2" y2="607.6" stroke="#5b2b8c" stroke-width="2.1"/><path d="M377.4,606.6 L385.0,606.6 L381.2,614.2 Z" fill="#5b2b8c"/>
<g font-family="Liberation Sans">
<text x="105.47 111.35 121.18 131.01 140.84" y="26.0" font-size="17.5" fill="#3a5f9a">(002)</text>
<text x="174.57 180.45 190.28 209.94" y="35.0" font-size="17.5" fill="#3a5f9a">(20)</text><path transform="translate(200.16,35.0) scale(17.5)" d="M0.255,0 L0.357,0 L0.357,-0.703 L0.282,-0.703 C0.262,-0.625 0.205,-0.578 0.072,-0.572 L0.072,-0.505 C0.175,-0.507 0.226,-0.52 0.255,-0.546 Z" fill="#3a5f9a"/>
<text x="39.87 45.75 55.58 65.41 75.24" y="74.2" font-size="17.5" fill="#3a5f9a">(200)</text>
<text x="83.67 99.38 109.21 119.04" y="98.5" font-size="17.5" fill="#3a5f9a">(03)</text><path transform="translate(89.61,98.5) scale(17.5)" d="M0.255,0 L0.357,0 L0.357,-0.703 L0.282,-0.703 C0.262,-0.625 0.205,-0.578 0.072,-0.572 L0.072,-0.505 C0.175,-0.507 0.226,-0.52 0.255,-0.546 Z" fill="#3a5f9a"/>
<text x="104.17 119.88 129.71 139.54" y="80.0" font-size="17.5" fill="#3a5f9a">(20)</text><path transform="translate(110.11,80.0) scale(17.5)" d="M0.255,0 L0.357,0 L0.357,-0.703 L0.282,-0.703 C0.262,-0.625 0.205,-0.578 0.072,-0.572 L0.072,-0.505 C0.175,-0.507 0.226,-0.52 0.255,-0.546 Z" fill="#3a5f9a"/>
<text x="184.67 190.55 200.38 210.21 220.04" y="95.3" font-size="17.5" fill="#3a5f9a">(400)</text>
<text x="237.97 243.85 253.68 273.34" y="112.3" font-size="17.5" fill="#3a5f9a">(30)</text><path transform="translate(263.56,112.3) scale(17.5)" d="M0.255,0 L0.357,0 L0.357,-0.703 L0.282,-0.703 C0.262,-0.625 0.205,-0.578 0.072,-0.572 L0.072,-0.505 C0.175,-0.507 0.226,-0.52 0.255,-0.546 Z" fill="#3a5f9a"/>
<text x="289.67 295.55 305.38 325.04" y="124.8" font-size="17.5" fill="#3a5f9a">(50)</text><path transform="translate(315.26,124.8) scale(17.5)" d="M0.255,0 L0.357,0 L0.357,-0.703 L0.282,-0.703 C0.262,-0.625 0.205,-0.578 0.072,-0.572 L0.072,-0.505 C0.175,-0.507 0.226,-0.52 0.255,-0.546 Z" fill="#3a5f9a"/>
<text x="385.87 391.75 411.41 421.24" y="121.6" font-size="17.5" fill="#3a5f9a">(02)</text><path transform="translate(401.63,121.6) scale(17.5)" d="M0.255,0 L0.357,0 L0.357,-0.703 L0.282,-0.703 C0.262,-0.625 0.205,-0.578 0.072,-0.572 L0.072,-0.505 C0.175,-0.507 0.226,-0.52 0.255,-0.546 Z" fill="#3a5f9a"/>
<text x="405.57 411.45 431.11 440.94" y="137.0" font-size="17.5" fill="#3a5f9a">(03)</text><path transform="translate(421.33,137.0) scale(17.5)" d="M0.255,0 L0.357,0 L0.357,-0.703 L0.282,-0.703 C0.262,-0.625 0.205,-0.578 0.072,-0.572 L0.072,-0.505 C0.175,-0.507 0.226,-0.52 0.255,-0.546 Z" fill="#3a5f9a"/>
<text x="137.97 143.85 153.68 163.51 173.34" y="163.6" font-size="17.5" fill="#3a5f9a">(002)</text>
<text x="171.67 197.21 207.04" y="189.8" font-size="17.5" fill="#3a5f9a">(0)</text><path transform="translate(177.61,189.8) scale(17.5)" d="M0.255,0 L0.357,0 L0.357,-0.703 L0.282,-0.703 C0.262,-0.625 0.205,-0.578 0.072,-0.572 L0.072,-0.505 C0.175,-0.507 0.226,-0.52 0.255,-0.546 Z" fill="#3a5f9a"/><path transform="translate(187.43,189.8) scale(17.5)" d="M0.255,0 L0.357,0 L0.357,-0.703 L0.282,-0.703 C0.262,-0.625 0.205,-0.578 0.072,-0.572 L0.072,-0.505 C0.175,-0.507 0.226,-0.52 0.255,-0.546 Z" fill="#3a5f9a"/>
<text x="92.87 108.58 118.41 128.24" y="236.6" font-size="17.5" fill="#3a5f9a">(20)</text><path transform="translate(98.81,236.6) scale(17.5)" d="M0.255,0 L0.357,0 L0.357,-0.703 L0.282,-0.703 C0.262,-0.625 0.205,-0.578 0.072,-0.572 L0.072,-0.505 C0.175,-0.507 0.226,-0.52 0.255,-0.546 Z" fill="#3a5f9a"/>
<text x="197.57 223.11 232.94" y="245.1" font-size="17.5" fill="#3a5f9a">(0)</text><path transform="translate(203.51,245.1) scale(17.5)" d="M0.255,0 L0.357,0 L0.357,-0.703 L0.282,-0.703 C0.262,-0.625 0.205,-0.578 0.072,-0.572 L0.072,-0.505 C0.175,-0.507 0.226,-0.52 0.255,-0.546 Z" fill="#3a5f9a"/><path transform="translate(213.33,245.1) scale(17.5)" d="M0.255,0 L0.357,0 L0.357,-0.703 L0.282,-0.703 C0.262,-0.625 0.205,-0.578 0.072,-0.572 L0.072,-0.505 C0.175,-0.507 0.226,-0.52 0.255,-0.546 Z" fill="#3a5f9a"/>
<text x="260.67 296.04" y="276.0" font-size="17.5" fill="#3a5f9a">()</text><path transform="translate(266.61,276.0) scale(17.5)" d="M0.255,0 L0.357,0 L0.357,-0.703 L0.282,-0.703 C0.262,-0.625 0.205,-0.578 0.072,-0.572 L0.072,-0.505 C0.175,-0.507 0.226,-0.52 0.255,-0.546 Z" fill="#3a5f9a"/><path transform="translate(276.43,276.0) scale(17.5)" d="M0.255,0 L0.357,0 L0.357,-0.703 L0.282,-0.703 C0.262,-0.625 0.205,-0.578 0.072,-0.572 L0.072,-0.505 C0.175,-0.507 0.226,-0.52 0.255,-0.546 Z" fill="#3a5f9a"/><path transform="translate(286.26,276.0) scale(17.5)" d="M0.255,0 L0.357,0 L0.357,-0.703 L0.282,-0.703 C0.262,-0.625 0.205,-0.578 0.072,-0.572 L0.072,-0.505 C0.175,-0.507 0.226,-0.52 0.255,-0.546 Z" fill="#3a5f9a"/>
<text x="312.37 318.25 337.91 347.74" y="290.6" font-size="17.5" fill="#3a5f9a">(03)</text><path transform="translate(328.13,290.6) scale(17.5)" d="M0.255,0 L0.357,0 L0.357,-0.703 L0.282,-0.703 C0.262,-0.625 0.205,-0.578 0.072,-0.572 L0.072,-0.505 C0.175,-0.507 0.226,-0.52 0.255,-0.546 Z" fill="#3a5f9a"/>
<text x="336.57 342.45 352.28 371.94" y="249.7" font-size="17.5" fill="#3a5f9a">(20)</text><path transform="translate(362.16,249.7) scale(17.5)" d="M0.255,0 L0.357,0 L0.357,-0.703 L0.282,-0.703 C0.262,-0.625 0.205,-0.578 0.072,-0.572 L0.072,-0.505 C0.175,-0.507 0.226,-0.52 0.255,-0.546 Z" fill="#3a5f9a"/>
<text x="404.77 410.65 420.48 430.31 440.14" y="274.3" font-size="17.5" fill="#3a5f9a">(220)</text>
<text x="139.27 145.15 154.98 164.81 174.64" y="330.4" font-size="17.5" fill="#3a5f9a">(002)</text>
<text x="99.87 115.58 125.41 135.24" y="391.9" font-size="17.5" fill="#3a5f9a">(20)</text><path transform="translate(105.81,391.9) scale(17.5)" d="M0.255,0 L0.357,0 L0.357,-0.703 L0.282,-0.703 C0.262,-0.625 0.205,-0.578 0.072,-0.572 L0.072,-0.505 C0.175,-0.507 0.226,-0.52 0.255,-0.546 Z" fill="#3a5f9a"/>
<text x="175.47 181.35 191.18 201.01 210.84" y="411.8" font-size="17.5" fill="#3a5f9a">(300)</text>
<text x="245.47 251.35 271.01 280.84" y="414.3" font-size="17.5" fill="#3a5f9a">(23)</text><path transform="translate(261.23,414.3) scale(17.5)" d="M0.255,0 L0.357,0 L0.357,-0.703 L0.282,-0.703 C0.262,-0.625 0.205,-0.578 0.072,-0.572 L0.072,-0.505 C0.175,-0.507 0.226,-0.52 0.255,-0.546 Z" fill="#3a5f9a"/>
<text x="361.37 367.25 386.91 396.74" y="413.7" font-size="17.5" fill="#3a5f9a">(03)</text><path transform="translate(377.13,413.7) scale(17.5)" d="M0.255,0 L0.357,0 L0.357,-0.703 L0.282,-0.703 C0.262,-0.625 0.205,-0.578 0.072,-0.572 L0.072,-0.505 C0.175,-0.507 0.226,-0.52 0.255,-0.546 Z" fill="#3a5f9a"/>
<text x="146.17 152.05 161.88 171.71 181.54" y="488.6" font-size="17.5" fill="#3a5f9a">(002)</text>
<text x="103.97 119.68 129.51 139.34" y="550.0" font-size="17.5" fill="#3a5f9a">(20)</text><path transform="translate(109.91,550.0) scale(17.5)" d="M0.255,0 L0.357,0 L0.357,-0.703 L0.282,-0.703 C0.262,-0.625 0.205,-0.578 0.072,-0.572 L0.072,-0.505 C0.175,-0.507 0.226,-0.52 0.255,-0.546 Z" fill="#3a5f9a"/>
<text x="47.77 63.48 73.31 83.14" y="577.9" font-size="17.5" fill="#3a5f9a">(03)</text><path transform="translate(53.71,577.9) scale(17.5)" d="M0.255,0 L0.357,0 L0.357,-0.703 L0.282,-0.703 C0.262,-0.625 0.205,-0.578 0.072,-0.572 L0.072,-0.505 C0.175,-0.507 0.226,-0.52 0.255,-0.546 Z" fill="#3a5f9a"/>
<text x="175.77 181.65 191.48 201.31 211.14" y="567.3" font-size="17.5" fill="#3a5f9a">(300)</text>
<text x="230.27 245.98 255.81 265.64" y="595.3" font-size="17.5" fill="#3a5f9a">(23)</text><path transform="translate(236.21,595.3) scale(17.5)" d="M0.255,0 L0.357,0 L0.357,-0.703 L0.282,-0.703 C0.262,-0.625 0.205,-0.578 0.072,-0.572 L0.072,-0.505 C0.175,-0.507 0.226,-0.52 0.255,-0.546 Z" fill="#3a5f9a"/>
<text x="301.87 317.58 327.41 337.24" y="570.4" font-size="17.5" fill="#3a5f9a">(00)</text><path transform="translate(307.81,570.4) scale(17.5)" d="M0.255,0 L0.357,0 L0.357,-0.703 L0.282,-0.703 C0.262,-0.625 0.205,-0.578 0.072,-0.572 L0.072,-0.505 C0.175,-0.507 0.226,-0.52 0.255,-0.546 Z" fill="#3a5f9a"/>
<text x="385.67 391.55 411.21 421.04" y="590.1" font-size="17.5" fill="#3a5f9a">(03)</text><path transform="translate(401.43,590.1) scale(17.5)" d="M0.255,0 L0.357,0 L0.357,-0.703 L0.282,-0.703 C0.262,-0.625 0.205,-0.578 0.072,-0.572 L0.072,-0.505 C0.175,-0.507 0.226,-0.52 0.255,-0.546 Z" fill="#3a5f9a"/>
</g>
<g fill="#7489b6"><path d="M151.72,14.70 L151.72,20.90 M149.03,16.25 L154.40,19.35 M154.40,16.25 L149.03,19.35" stroke="#7489b6" stroke-width="0.8" fill="none"/><circle cx="151.72" cy="14.70" r="0.85"/><circle cx="151.72" cy="20.90" r="0.85"/><circle cx="149.03" cy="16.25" r="0.85"/><circle cx="154.40" cy="19.35" r="0.85"/><circle cx="154.40" cy="16.25" r="0.85"/><circle cx="149.03" cy="19.35" r="0.85"/></g>
<g fill="#7489b6"><path d="M220.82,23.70 L220.82,29.90 M218.13,25.25 L223.50,28.35 M223.50,25.25 L218.13,28.35" stroke="#7489b6" stroke-width="0.8" fill="none"/><circle cx="220.82" cy="23.70" r="0.85"/><circle cx="220.82" cy="29.90" r="0.85"/><circle cx="218.13" cy="25.25" r="0.85"/><circle cx="223.50" cy="28.35" r="0.85"/><circle cx="223.50" cy="25.25" r="0.85"/><circle cx="218.13" cy="28.35" r="0.85"/></g>
<g fill="#7489b6"><path d="M229.72,23.70 L229.72,29.90 M227.03,25.25 L232.40,28.35 M232.40,25.25 L227.03,28.35" stroke="#7489b6" stroke-width="0.8" fill="none"/><circle cx="229.72" cy="23.70" r="0.85"/><circle cx="229.72" cy="29.90" r="0.85"/><circle cx="227.03" cy="25.25" r="0.85"/><circle cx="232.40" cy="28.35" r="0.85"/><circle cx="232.40" cy="25.25" r="0.85"/><circle cx="227.03" cy="28.35" r="0.85"/></g>
<g fill="#7489b6"><path d="M238.62,23.70 L238.62,29.90 M235.93,25.25 L241.30,28.35 M241.30,25.25 L235.93,28.35" stroke="#7489b6" stroke-width="0.8" fill="none"/><circle cx="238.62" cy="23.70" r="0.85"/><circle cx="238.62" cy="29.90" r="0.85"/><circle cx="235.93" cy="25.25" r="0.85"/><circle cx="241.30" cy="28.35" r="0.85"/><circle cx="241.30" cy="25.25" r="0.85"/><circle cx="235.93" cy="28.35" r="0.85"/></g>
<g fill="#7489b6"><path d="M150.42,68.70 L150.42,74.90 M147.73,70.25 L153.10,73.35 M153.10,70.25 L147.73,73.35" stroke="#7489b6" stroke-width="0.8" fill="none"/><circle cx="150.42" cy="68.70" r="0.85"/><circle cx="150.42" cy="74.90" r="0.85"/><circle cx="147.73" cy="70.25" r="0.85"/><circle cx="153.10" cy="73.35" r="0.85"/><circle cx="153.10" cy="70.25" r="0.85"/><circle cx="147.73" cy="73.35" r="0.85"/></g>
<g fill="#7489b6"><path d="M230.92,84.00 L230.92,90.20 M228.23,85.55 L233.60,88.65 M233.60,85.55 L228.23,88.65" stroke="#7489b6" stroke-width="0.8" fill="none"/><circle cx="230.92" cy="84.00" r="0.85"/><circle cx="230.92" cy="90.20" r="0.85"/><circle cx="228.23" cy="85.55" r="0.85"/><circle cx="233.60" cy="88.65" r="0.85"/><circle cx="233.60" cy="85.55" r="0.85"/><circle cx="228.23" cy="88.65" r="0.85"/></g>
<g fill="#7489b6"><path d="M239.82,84.00 L239.82,90.20 M237.13,85.55 L242.50,88.65 M242.50,85.55 L237.13,88.65" stroke="#7489b6" stroke-width="0.8" fill="none"/><circle cx="239.82" cy="84.00" r="0.85"/><circle cx="239.82" cy="90.20" r="0.85"/><circle cx="237.13" cy="85.55" r="0.85"/><circle cx="242.50" cy="88.65" r="0.85"/><circle cx="242.50" cy="85.55" r="0.85"/><circle cx="237.13" cy="88.65" r="0.85"/></g>
<g fill="#7489b6"><path d="M248.72,84.00 L248.72,90.20 M246.03,85.55 L251.40,88.65 M251.40,85.55 L246.03,88.65" stroke="#7489b6" stroke-width="0.8" fill="none"/><circle cx="248.72" cy="84.00" r="0.85"/><circle cx="248.72" cy="90.20" r="0.85"/><circle cx="246.03" cy="85.55" r="0.85"/><circle cx="251.40" cy="88.65" r="0.85"/><circle cx="251.40" cy="85.55" r="0.85"/><circle cx="246.03" cy="88.65" r="0.85"/></g>
<g fill="#7489b6"><path d="M284.22,101.00 L284.22,107.20 M281.53,102.55 L286.90,105.65 M286.90,102.55 L281.53,105.65" stroke="#7489b6" stroke-width="0.8" fill="none"/><circle cx="284.22" cy="101.00" r="0.85"/><circle cx="284.22" cy="107.20" r="0.85"/><circle cx="281.53" cy="102.55" r="0.85"/><circle cx="286.90" cy="105.65" r="0.85"/><circle cx="286.90" cy="102.55" r="0.85"/><circle cx="281.53" cy="105.65" r="0.85"/></g>
<g fill="#7489b6"><path d="M335.92,113.50 L335.92,119.70 M333.23,115.05 L338.60,118.15 M338.60,115.05 L333.23,118.15" stroke="#7489b6" stroke-width="0.8" fill="none"/><circle cx="335.92" cy="113.50" r="0.85"/><circle cx="335.92" cy="119.70" r="0.85"/><circle cx="333.23" cy="115.05" r="0.85"/><circle cx="338.60" cy="118.15" r="0.85"/><circle cx="338.60" cy="115.05" r="0.85"/><circle cx="333.23" cy="118.15" r="0.85"/></g>
<g fill="#7489b6"><path d="M344.82,113.50 L344.82,119.70 M342.13,115.05 L347.50,118.15 M347.50,115.05 L342.13,118.15" stroke="#7489b6" stroke-width="0.8" fill="none"/><circle cx="344.82" cy="113.50" r="0.85"/><circle cx="344.82" cy="119.70" r="0.85"/><circle cx="342.13" cy="115.05" r="0.85"/><circle cx="347.50" cy="118.15" r="0.85"/><circle cx="347.50" cy="115.05" r="0.85"/><circle cx="342.13" cy="118.15" r="0.85"/></g>
<g fill="#7489b6"><path d="M353.72,113.50 L353.72,119.70 M351.03,115.05 L356.40,118.15 M356.40,115.05 L351.03,118.15" stroke="#7489b6" stroke-width="0.8" fill="none"/><circle cx="353.72" cy="113.50" r="0.85"/><circle cx="353.72" cy="119.70" r="0.85"/><circle cx="351.03" cy="115.05" r="0.85"/><circle cx="356.40" cy="118.15" r="0.85"/><circle cx="356.40" cy="115.05" r="0.85"/><circle cx="351.03" cy="118.15" r="0.85"/></g>
<g fill="#7489b6"><path d="M432.12,110.30 L432.12,116.50 M429.43,111.85 L434.80,114.95 M434.80,111.85 L429.43,114.95" stroke="#7489b6" stroke-width="0.8" fill="none"/><circle cx="432.12" cy="110.30" r="0.85"/><circle cx="432.12" cy="116.50" r="0.85"/><circle cx="429.43" cy="111.85" r="0.85"/><circle cx="434.80" cy="114.95" r="0.85"/><circle cx="434.80" cy="111.85" r="0.85"/><circle cx="429.43" cy="114.95" r="0.85"/></g>
<g fill="#7489b6"><path d="M441.02,110.30 L441.02,116.50 M438.33,111.85 L443.70,114.95 M443.70,111.85 L438.33,114.95" stroke="#7489b6" stroke-width="0.8" fill="none"/><circle cx="441.02" cy="110.30" r="0.85"/><circle cx="441.02" cy="116.50" r="0.85"/><circle cx="438.33" cy="111.85" r="0.85"/><circle cx="443.70" cy="114.95" r="0.85"/><circle cx="443.70" cy="111.85" r="0.85"/><circle cx="438.33" cy="114.95" r="0.85"/></g>
<g fill="#7489b6"><path d="M449.92,110.30 L449.92,116.50 M447.23,111.85 L452.60,114.95 M452.60,111.85 L447.23,114.95" stroke="#7489b6" stroke-width="0.8" fill="none"/><circle cx="449.92" cy="110.30" r="0.85"/><circle cx="449.92" cy="116.50" r="0.85"/><circle cx="447.23" cy="111.85" r="0.85"/><circle cx="452.60" cy="114.95" r="0.85"/><circle cx="452.60" cy="111.85" r="0.85"/><circle cx="447.23" cy="114.95" r="0.85"/></g>
<g fill="#7489b6"><path d="M451.82,125.70 L451.82,131.90 M449.13,127.25 L454.50,130.35 M454.50,127.25 L449.13,130.35" stroke="#7489b6" stroke-width="0.8" fill="none"/><circle cx="451.82" cy="125.70" r="0.85"/><circle cx="451.82" cy="131.90" r="0.85"/><circle cx="449.13" cy="127.25" r="0.85"/><circle cx="454.50" cy="130.35" r="0.85"/><circle cx="454.50" cy="127.25" r="0.85"/><circle cx="449.13" cy="130.35" r="0.85"/></g>
<g fill="#7489b6"><path d="M184.22,152.30 L184.22,158.50 M181.53,153.85 L186.90,156.95 M186.90,153.85 L181.53,156.95" stroke="#7489b6" stroke-width="0.8" fill="none"/><circle cx="184.22" cy="152.30" r="0.85"/><circle cx="184.22" cy="158.50" r="0.85"/><circle cx="181.53" cy="153.85" r="0.85"/><circle cx="186.90" cy="156.95" r="0.85"/><circle cx="186.90" cy="153.85" r="0.85"/><circle cx="181.53" cy="156.95" r="0.85"/></g>
<g fill="#7489b6"><path d="M217.92,178.50 L217.92,184.70 M215.23,180.05 L220.60,183.15 M220.60,180.05 L215.23,183.15" stroke="#7489b6" stroke-width="0.8" fill="none"/><circle cx="217.92" cy="178.50" r="0.85"/><circle cx="217.92" cy="184.70" r="0.85"/><circle cx="215.23" cy="180.05" r="0.85"/><circle cx="220.60" cy="183.15" r="0.85"/><circle cx="220.60" cy="180.05" r="0.85"/><circle cx="215.23" cy="183.15" r="0.85"/></g>
<g fill="#7489b6"><path d="M226.82,178.50 L226.82,184.70 M224.13,180.05 L229.50,183.15 M229.50,180.05 L224.13,183.15" stroke="#7489b6" stroke-width="0.8" fill="none"/><circle cx="226.82" cy="178.50" r="0.85"/><circle cx="226.82" cy="184.70" r="0.85"/><circle cx="224.13" cy="180.05" r="0.85"/><circle cx="229.50" cy="183.15" r="0.85"/><circle cx="229.50" cy="180.05" r="0.85"/><circle cx="224.13" cy="183.15" r="0.85"/></g>
<g fill="#7489b6"><path d="M139.12,225.30 L139.12,231.50 M136.43,226.85 L141.80,229.95 M141.80,226.85 L136.43,229.95" stroke="#7489b6" stroke-width="0.8" fill="none"/><circle cx="139.12" cy="225.30" r="0.85"/><circle cx="139.12" cy="231.50" r="0.85"/><circle cx="136.43" cy="226.85" r="0.85"/><circle cx="141.80" cy="229.95" r="0.85"/><circle cx="141.80" cy="226.85" r="0.85"/><circle cx="136.43" cy="229.95" r="0.85"/></g>
<g fill="#7489b6"><path d="M243.82,233.80 L243.82,240.00 M241.13,235.35 L246.50,238.45 M246.50,235.35 L241.13,238.45" stroke="#7489b6" stroke-width="0.8" fill="none"/><circle cx="243.82" cy="233.80" r="0.85"/><circle cx="243.82" cy="240.00" r="0.85"/><circle cx="241.13" cy="235.35" r="0.85"/><circle cx="246.50" cy="238.45" r="0.85"/><circle cx="246.50" cy="235.35" r="0.85"/><circle cx="241.13" cy="238.45" r="0.85"/></g>
<g fill="#7489b6"><path d="M252.72,233.80 L252.72,240.00 M250.03,235.35 L255.40,238.45 M255.40,235.35 L250.03,238.45" stroke="#7489b6" stroke-width="0.8" fill="none"/><circle cx="252.72" cy="233.80" r="0.85"/><circle cx="252.72" cy="240.00" r="0.85"/><circle cx="250.03" cy="235.35" r="0.85"/><circle cx="255.40" cy="238.45" r="0.85"/><circle cx="255.40" cy="235.35" r="0.85"/><circle cx="250.03" cy="238.45" r="0.85"/></g>
<g fill="#7489b6"><path d="M261.62,233.80 L261.62,240.00 M258.93,235.35 L264.30,238.45 M264.30,235.35 L258.93,238.45" stroke="#7489b6" stroke-width="0.8" fill="none"/><circle cx="261.62" cy="233.80" r="0.85"/><circle cx="261.62" cy="240.00" r="0.85"/><circle cx="258.93" cy="235.35" r="0.85"/><circle cx="264.30" cy="238.45" r="0.85"/><circle cx="264.30" cy="235.35" r="0.85"/><circle cx="258.93" cy="238.45" r="0.85"/></g>
<g fill="#7489b6"><path d="M306.92,264.70 L306.92,270.90 M304.23,266.25 L309.60,269.35 M309.60,266.25 L304.23,269.35" stroke="#7489b6" stroke-width="0.8" fill="none"/><circle cx="306.92" cy="264.70" r="0.85"/><circle cx="306.92" cy="270.90" r="0.85"/><circle cx="304.23" cy="266.25" r="0.85"/><circle cx="309.60" cy="269.35" r="0.85"/><circle cx="309.60" cy="266.25" r="0.85"/><circle cx="304.23" cy="269.35" r="0.85"/></g>
<g fill="#7489b6"><path d="M315.82,264.70 L315.82,270.90 M313.13,266.25 L318.50,269.35 M318.50,266.25 L313.13,269.35" stroke="#7489b6" stroke-width="0.8" fill="none"/><circle cx="315.82" cy="264.70" r="0.85"/><circle cx="315.82" cy="270.90" r="0.85"/><circle cx="313.13" cy="266.25" r="0.85"/><circle cx="318.50" cy="269.35" r="0.85"/><circle cx="318.50" cy="266.25" r="0.85"/><circle cx="313.13" cy="269.35" r="0.85"/></g>
<g fill="#7489b6"><path d="M358.62,279.30 L358.62,285.50 M355.93,280.85 L361.30,283.95 M361.30,280.85 L355.93,283.95" stroke="#7489b6" stroke-width="0.8" fill="none"/><circle cx="358.62" cy="279.30" r="0.85"/><circle cx="358.62" cy="285.50" r="0.85"/><circle cx="355.93" cy="280.85" r="0.85"/><circle cx="361.30" cy="283.95" r="0.85"/><circle cx="361.30" cy="280.85" r="0.85"/><circle cx="355.93" cy="283.95" r="0.85"/></g>
<g fill="#7489b6"><path d="M382.82,238.40 L382.82,244.60 M380.13,239.95 L385.50,243.05 M385.50,239.95 L380.13,243.05" stroke="#7489b6" stroke-width="0.8" fill="none"/><circle cx="382.82" cy="238.40" r="0.85"/><circle cx="382.82" cy="244.60" r="0.85"/><circle cx="380.13" cy="239.95" r="0.85"/><circle cx="385.50" cy="243.05" r="0.85"/><circle cx="385.50" cy="239.95" r="0.85"/><circle cx="380.13" cy="243.05" r="0.85"/></g>
<g fill="#7489b6"><path d="M391.72,238.40 L391.72,244.60 M389.03,239.95 L394.40,243.05 M394.40,239.95 L389.03,243.05" stroke="#7489b6" stroke-width="0.8" fill="none"/><circle cx="391.72" cy="238.40" r="0.85"/><circle cx="391.72" cy="244.60" r="0.85"/><circle cx="389.03" cy="239.95" r="0.85"/><circle cx="394.40" cy="243.05" r="0.85"/><circle cx="394.40" cy="239.95" r="0.85"/><circle cx="389.03" cy="243.05" r="0.85"/></g>
<g fill="#7489b6"><path d="M400.62,238.40 L400.62,244.60 M397.93,239.95 L403.30,243.05 M403.30,239.95 L397.93,243.05" stroke="#7489b6" stroke-width="0.8" fill="none"/><circle cx="400.62" cy="238.40" r="0.85"/><circle cx="400.62" cy="244.60" r="0.85"/><circle cx="397.93" cy="239.95" r="0.85"/><circle cx="403.30" cy="243.05" r="0.85"/><circle cx="403.30" cy="239.95" r="0.85"/><circle cx="397.93" cy="243.05" r="0.85"/></g>
<g fill="#7489b6"><path d="M451.02,263.00 L451.02,269.20 M448.33,264.55 L453.70,267.65 M453.70,264.55 L448.33,267.65" stroke="#7489b6" stroke-width="0.8" fill="none"/><circle cx="451.02" cy="263.00" r="0.85"/><circle cx="451.02" cy="269.20" r="0.85"/><circle cx="448.33" cy="264.55" r="0.85"/><circle cx="453.70" cy="267.65" r="0.85"/><circle cx="453.70" cy="264.55" r="0.85"/><circle cx="448.33" cy="267.65" r="0.85"/></g>
<g fill="#7489b6"><path d="M459.92,263.00 L459.92,269.20 M457.23,264.55 L462.60,267.65 M462.60,264.55 L457.23,267.65" stroke="#7489b6" stroke-width="0.8" fill="none"/><circle cx="459.92" cy="263.00" r="0.85"/><circle cx="459.92" cy="269.20" r="0.85"/><circle cx="457.23" cy="264.55" r="0.85"/><circle cx="462.60" cy="267.65" r="0.85"/><circle cx="462.60" cy="264.55" r="0.85"/><circle cx="457.23" cy="267.65" r="0.85"/></g>
<g fill="#7489b6"><path d="M185.52,319.10 L185.52,325.30 M182.83,320.65 L188.20,323.75 M188.20,320.65 L182.83,323.75" stroke="#7489b6" stroke-width="0.8" fill="none"/><circle cx="185.52" cy="319.10" r="0.85"/><circle cx="185.52" cy="325.30" r="0.85"/><circle cx="182.83" cy="320.65" r="0.85"/><circle cx="188.20" cy="323.75" r="0.85"/><circle cx="188.20" cy="320.65" r="0.85"/><circle cx="182.83" cy="323.75" r="0.85"/></g>
<g font-family="Liberation Sans">
<text x="350.22" y="53.5" textLength="47.41" lengthAdjust="spacingAndGlyphs" font-size="17.5" fill="#000">CQDs</text>
<text x="400.4" y="51.5" font-size="14" fill="#000">@</text>
<text x="417.04" y="53.5" textLength="47.06" lengthAdjust="spacingAndGlyphs" font-size="17.5" fill="#000">NaVO</text>
<text x="464.5" y="57.7" font-size="12" fill="#000">3</text>
<text x="254.92" y="219.3" textLength="47.72" lengthAdjust="spacingAndGlyphs" font-size="17.5" fill="#000">CQDs</text>
<text x="305.1" y="217.3" font-size="14" fill="#000">@</text>
<text x="321.62" y="219.3" textLength="34.87" lengthAdjust="spacingAndGlyphs" font-size="17.5" fill="#000">SnO</text>
<text x="356.7" y="223.4" font-size="12" fill="#000">2</text>
<text x="269.71" y="375.5" textLength="121.49" lengthAdjust="spacingAndGlyphs" font-size="17.5" fill="#000">Calcined CQDs</text>
<text x="250.30" y="528.8" textLength="141.01" lengthAdjust="spacingAndGlyphs" font-size="17.5" fill="#000">Uncalcined CQDs</text>
<text x="371.90" y="166.4" textLength="84.89" lengthAdjust="spacingAndGlyphs" font-size="17.5" fill="#a23a46">Hexagonal</text>
<text x="381.12" y="189.2" textLength="82.72" lengthAdjust="spacingAndGlyphs" font-size="17.5" fill="#a23a46">Tetragonal</text>
<text x="389.80" y="210.9" textLength="108.12" lengthAdjust="spacingAndGlyphs" font-size="17.5" fill="#a23a46">Orthorhombic</text>
<text x="396.91" y="338.9" textLength="84.17" lengthAdjust="spacingAndGlyphs" font-size="17.5" fill="#a23a46">Hexagonal</text>
<text x="395.91" y="498.7" textLength="84.47" lengthAdjust="spacingAndGlyphs" font-size="17.5" fill="#a23a46">Hexagonal</text>
</g>
<line x1="306.6" y1="47.5" x2="347.6" y2="47.5" stroke="#cc719f" stroke-width="1.5"/>
<line x1="209.5" y1="213.7" x2="250.2" y2="213.7" stroke="#e6c18e" stroke-width="1.5"/>
<line x1="223.5" y1="369.0" x2="264.6" y2="369.0" stroke="#6c6699" stroke-width="1.5"/>
<line x1="206.9" y1="524.4" x2="246.6" y2="524.4" stroke="#cf7c7e" stroke-width="1.5"/>
<g fill="#c77680"><path d="M367.50,153.20 L367.50,159.40 M364.82,154.75 L370.18,157.85 M370.18,154.75 L364.82,157.85" stroke="#c77680" stroke-width="0.8" fill="none"/><circle cx="367.50" cy="153.20" r="0.85"/><circle cx="367.50" cy="159.40" r="0.85"/><circle cx="364.82" cy="154.75" r="0.85"/><circle cx="370.18" cy="157.85" r="0.85"/><circle cx="370.18" cy="154.75" r="0.85"/><circle cx="364.82" cy="157.85" r="0.85"/></g>
<g fill="#c77680"><path d="M367.40,175.90 L367.40,182.10 M364.72,177.45 L370.08,180.55 M370.08,177.45 L364.72,180.55" stroke="#c77680" stroke-width="0.8" fill="none"/><circle cx="367.40" cy="175.90" r="0.85"/><circle cx="367.40" cy="182.10" r="0.85"/><circle cx="364.72" cy="177.45" r="0.85"/><circle cx="370.08" cy="180.55" r="0.85"/><circle cx="370.08" cy="177.45" r="0.85"/><circle cx="364.72" cy="180.55" r="0.85"/></g>
<g fill="#c77680"><path d="M376.30,175.90 L376.30,182.10 M373.62,177.45 L378.98,180.55 M378.98,177.45 L373.62,180.55" stroke="#c77680" stroke-width="0.8" fill="none"/><circle cx="376.30" cy="175.90" r="0.85"/><circle cx="376.30" cy="182.10" r="0.85"/><circle cx="373.62" cy="177.45" r="0.85"/><circle cx="378.98" cy="180.55" r="0.85"/><circle cx="378.98" cy="177.45" r="0.85"/><circle cx="373.62" cy="180.55" r="0.85"/></g>
<g fill="#c77680"><path d="M367.30,198.40 L367.30,204.60 M364.62,199.95 L369.98,203.05 M369.98,199.95 L364.62,203.05" stroke="#c77680" stroke-width="0.8" fill="none"/><circle cx="367.30" cy="198.40" r="0.85"/><circle cx="367.30" cy="204.60" r="0.85"/><circle cx="364.62" cy="199.95" r="0.85"/><circle cx="369.98" cy="203.05" r="0.85"/><circle cx="369.98" cy="199.95" r="0.85"/><circle cx="364.62" cy="203.05" r="0.85"/></g>
<g fill="#c77680"><path d="M376.20,198.40 L376.20,204.60 M373.52,199.95 L378.88,203.05 M378.88,199.95 L373.52,203.05" stroke="#c77680" stroke-width="0.8" fill="none"/><circle cx="376.20" cy="198.40" r="0.85"/><circle cx="376.20" cy="204.60" r="0.85"/><circle cx="373.52" cy="199.95" r="0.85"/><circle cx="378.88" cy="203.05" r="0.85"/><circle cx="378.88" cy="199.95" r="0.85"/><circle cx="373.52" cy="203.05" r="0.85"/></g>
<g fill="#c77680"><path d="M385.20,198.40 L385.20,204.60 M382.52,199.95 L387.88,203.05 M387.88,199.95 L382.52,203.05" stroke="#c77680" stroke-width="0.8" fill="none"/><circle cx="385.20" cy="198.40" r="0.85"/><circle cx="385.20" cy="204.60" r="0.85"/><circle cx="382.52" cy="199.95" r="0.85"/><circle cx="387.88" cy="203.05" r="0.85"/><circle cx="387.88" cy="199.95" r="0.85"/><circle cx="382.52" cy="203.05" r="0.85"/></g>
<g font-family="Liberation Sans" font-size="23" fill="#000">
<text x="43.70" y="55.0" textLength="15.97" lengthAdjust="spacingAndGlyphs">D</text>
<text x="43.71" y="195.65" textLength="16.15" lengthAdjust="spacingAndGlyphs">C</text>
<text x="43.55" y="351.6" textLength="15.15" lengthAdjust="spacingAndGlyphs">B</text>
<text x="43.90" y="508.5" textLength="14.27" lengthAdjust="spacingAndGlyphs">A</text>
</g>
<rect x="37.7" y="2.6" width="472.5" height="632.3" fill="none" stroke="#000" stroke-width="2.8"/>
<line x1="57.39" y1="631.40" x2="57.39" y2="634.9" stroke="#000" stroke-width="2"/>
<line x1="77.08" y1="629.40" x2="77.08" y2="634.9" stroke="#000" stroke-width="2"/>
<line x1="96.76" y1="631.40" x2="96.76" y2="634.9" stroke="#000" stroke-width="2"/>
<line x1="116.45" y1="629.40" x2="116.45" y2="634.9" stroke="#000" stroke-width="2"/>
<line x1="136.14" y1="631.40" x2="136.14" y2="634.9" stroke="#000" stroke-width="2"/>
<line x1="155.82" y1="629.40" x2="155.82" y2="634.9" stroke="#000" stroke-width="2"/>
<line x1="175.51" y1="631.40" x2="175.51" y2="634.9" stroke="#000" stroke-width="2"/>
<line x1="195.20" y1="629.40" x2="195.20" y2="634.9" stroke="#000" stroke-width="2"/>
<line x1="214.89" y1="631.40" x2="214.89" y2="634.9" stroke="#000" stroke-width="2"/>
<line x1="234.57" y1="629.40" x2="234.57" y2="634.9" stroke="#000" stroke-width="2"/>
<line x1="254.26" y1="631.40" x2="254.26" y2="634.9" stroke="#000" stroke-width="2"/>
<line x1="273.95" y1="629.40" x2="273.95" y2="634.9" stroke="#000" stroke-width="2"/>
<line x1="293.64" y1="631.40" x2="293.64" y2="634.9" stroke="#000" stroke-width="2"/>
<line x1="313.32" y1="629.40" x2="313.32" y2="634.9" stroke="#000" stroke-width="2"/>
<line x1="333.01" y1="631.40" x2="333.01" y2="634.9" stroke="#000" stroke-width="2"/>
<line x1="352.70" y1="629.40" x2="352.70" y2="634.9" stroke="#000" stroke-width="2"/>
<line x1="372.39" y1="631.40" x2="372.39" y2="634.9" stroke="#000" stroke-width="2"/>
<line x1="392.07" y1="629.40" x2="392.07" y2="634.9" stroke="#000" stroke-width="2"/>
<line x1="411.76" y1="631.40" x2="411.76" y2="634.9" stroke="#000" stroke-width="2"/>
<line x1="431.45" y1="629.40" x2="431.45" y2="634.9" stroke="#000" stroke-width="2"/>
<line x1="451.14" y1="631.40" x2="451.14" y2="634.9" stroke="#000" stroke-width="2"/>
<line x1="470.82" y1="629.40" x2="470.82" y2="634.9" stroke="#000" stroke-width="2"/>
<line x1="490.51" y1="631.40" x2="490.51" y2="634.9" stroke="#000" stroke-width="2"/>
<g font-family="Liberation Sans">
<text x="36.40" y="654.2" font-size="17.5" fill="#000">0</text><path transform="translate(26.67,654.2) scale(17.5)" d="M0.255,0 L0.357,0 L0.357,-0.703 L0.282,-0.703 C0.262,-0.625 0.205,-0.578 0.072,-0.572 L0.072,-0.505 C0.175,-0.507 0.226,-0.52 0.255,-0.546 Z" fill="#000"/>
<text x="75.78" y="654.2" font-size="17.5" fill="#000">5</text><path transform="translate(66.05,654.2) scale(17.5)" d="M0.255,0 L0.357,0 L0.357,-0.703 L0.282,-0.703 C0.262,-0.625 0.205,-0.578 0.072,-0.572 L0.072,-0.505 C0.175,-0.507 0.226,-0.52 0.255,-0.546 Z" fill="#000"/>
<text x="105.42 115.15" y="654.2" font-size="17.5" fill="#000">20</text>
<text x="144.79 154.52" y="654.2" font-size="17.5" fill="#000">25</text>
<text x="184.17 193.90" y="654.2" font-size="17.5" fill="#000">30</text>
<text x="223.54 233.27" y="654.2" font-size="17.5" fill="#000">35</text>
<text x="262.92 272.65" y="654.2" font-size="17.5" fill="#000">40</text>
<text x="302.29 312.02" y="654.2" font-size="17.5" fill="#000">45</text>
<text x="341.67 351.40" y="654.2" font-size="17.5" fill="#000">50</text>
<text x="381.04 390.77" y="654.2" font-size="17.5" fill="#000">55</text>
<text x="420.42 430.15" y="654.2" font-size="17.5" fill="#000">60</text>
<text x="459.79 469.52" y="654.2" font-size="17.5" fill="#000">65</text>
<text x="499.17 508.90" y="654.2" font-size="17.5" fill="#000">70</text>
</g>
<text x="261.7" y="677" font-family="Liberation Sans" font-size="18" text-anchor="middle">2θ°</text>
<text transform="translate(15.3,313.6) rotate(-90)" font-family="Liberation Sans" font-size="18" text-anchor="middle">Intensity (a.u.)</text>
</svg></body></html>
